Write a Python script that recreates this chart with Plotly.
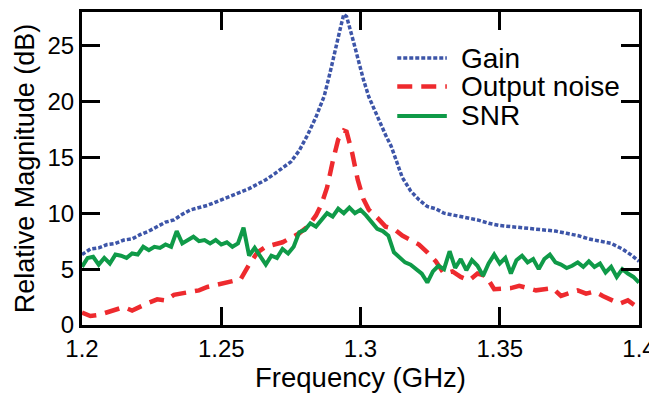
import plotly.graph_objects as go

# ---------------- data ----------------
gain_freq = [1.200, 1.203, 1.206, 1.209, 1.212, 1.215, 1.218, 1.221, 1.224, 1.227,
             1.230, 1.233, 1.236, 1.239, 1.242, 1.245, 1.248, 1.251, 1.254, 1.257,
             1.260, 1.263, 1.266, 1.269, 1.272, 1.275, 1.278, 1.281, 1.284, 1.287,
             1.289, 1.291, 1.293, 1.294, 1.295, 1.297, 1.299, 1.301, 1.303, 1.305,
             1.307, 1.309, 1.311, 1.313, 1.315, 1.318, 1.321, 1.324, 1.327, 1.330,
             1.334, 1.338, 1.342, 1.346, 1.350, 1.354, 1.358, 1.362, 1.366, 1.370,
             1.374, 1.378, 1.382, 1.386, 1.390, 1.394, 1.397, 1.400]
gain_db = [6.3, 6.8, 6.9, 7.2, 7.3, 7.6, 7.7, 8.1, 8.4, 8.8,
           9.2, 9.4, 9.9, 10.3, 10.5, 10.7, 11.0, 11.3, 11.6, 11.9,
           12.2, 12.6, 13.0, 13.5, 14.1, 14.6, 15.6, 17.0, 18.6, 20.5,
           22.5, 24.8, 26.8, 27.8, 27.6, 25.8, 23.8, 22.0, 20.4, 19.2,
           18.0, 17.0, 16.0, 14.6, 13.2, 12.0, 11.2, 10.6, 10.4, 10.0,
           9.8, 9.6, 9.4, 9.1, 8.9, 8.8, 8.7, 8.6, 8.5, 8.4,
           8.2, 8.0, 7.7, 7.5, 7.3, 6.8, 6.3, 5.7]

noise_freq = [1.200, 1.203, 1.206, 1.209, 1.212, 1.215, 1.218, 1.221, 1.224, 1.227,
              1.230, 1.233, 1.236, 1.239, 1.242, 1.245, 1.248, 1.251, 1.254, 1.257,
              1.260, 1.263, 1.266, 1.269, 1.272, 1.275, 1.278, 1.281, 1.284, 1.286,
              1.288, 1.290, 1.292, 1.294, 1.295, 1.297, 1.299, 1.301, 1.303, 1.306,
              1.309, 1.312, 1.315, 1.318, 1.321, 1.324, 1.327, 1.330, 1.333, 1.336,
              1.339, 1.342, 1.345, 1.348, 1.351, 1.354, 1.357, 1.360, 1.363, 1.366,
              1.369, 1.372, 1.375, 1.378, 1.381, 1.384, 1.387, 1.390, 1.393, 1.396,
              1.400]
noise_db = [1.1, 0.8, 0.9, 1.1, 1.4, 1.6, 1.3, 1.7, 2.0, 2.3,
            2.2, 2.7, 2.8, 2.9, 3.1, 3.4, 3.6, 3.8, 4.0, 4.1,
            5.4, 6.5, 7.0, 7.2, 7.4, 7.8, 8.2, 8.8, 9.8, 10.8,
            12.3, 14.6, 16.6, 17.4, 17.3, 15.4, 13.0, 11.3, 10.3, 9.6,
            8.8, 8.6, 8.0, 7.6, 7.2, 6.5, 5.7, 4.6, 4.8, 4.3,
            4.0, 4.6, 4.4, 3.2, 3.2, 3.3, 3.5, 3.3, 3.1, 3.2,
            3.3, 2.6, 2.9, 3.1, 2.8, 3.0, 2.6, 2.3, 1.9, 2.2,
            1.5]

snr_freq = [1.200, 1.202, 1.204, 1.206, 1.208, 1.210, 1.212, 1.214, 1.216, 1.218,
            1.220, 1.222, 1.224, 1.226, 1.228, 1.230, 1.232, 1.234, 1.236, 1.238,
            1.240, 1.242, 1.244, 1.246, 1.248, 1.250, 1.252, 1.254, 1.256, 1.258,
            1.260, 1.262, 1.264, 1.266, 1.268, 1.270, 1.272, 1.274, 1.276, 1.278,
            1.280, 1.282, 1.284, 1.286, 1.288, 1.290, 1.292, 1.294, 1.296, 1.298,
            1.300, 1.302, 1.304, 1.306, 1.308, 1.310, 1.312, 1.314, 1.316, 1.318,
            1.320, 1.322, 1.324, 1.326, 1.328, 1.330, 1.332, 1.334, 1.336, 1.338,
            1.340, 1.342, 1.344, 1.346, 1.348, 1.350, 1.352, 1.354, 1.356, 1.358,
            1.360, 1.362, 1.364, 1.366, 1.368, 1.370, 1.372, 1.374, 1.376, 1.378,
            1.380, 1.382, 1.384, 1.386, 1.388, 1.390, 1.392, 1.394, 1.396, 1.398,
            1.400]
snr_db = [5.2, 6.0, 6.1, 5.4, 6.0, 5.5, 6.3, 6.2, 6.0, 6.4,
          6.3, 7.0, 6.7, 7.0, 6.9, 7.2, 7.0, 8.4, 7.3, 7.6,
          7.9, 7.5, 7.6, 7.3, 7.6, 7.2, 7.4, 7.0, 7.3, 8.7,
          6.2, 6.9, 6.1, 5.4, 6.2, 6.0, 6.8, 6.4, 7.0, 8.3,
          8.5, 9.1, 8.8, 9.4, 10.0, 9.7, 10.4, 10.0, 10.5, 10.0,
          10.3, 9.8, 9.2, 8.6, 8.4, 8.0, 6.5, 6.0, 5.6, 5.4,
          5.0, 4.6, 3.8, 4.8, 5.3, 5.0, 6.6, 5.1, 5.9, 4.9,
          5.8, 5.3, 4.4, 5.5, 6.3, 5.5, 6.0, 4.6, 5.8, 6.2,
          5.6, 5.9, 5.0, 5.9, 6.3, 5.6, 5.4, 5.1, 5.3, 5.6,
          5.2, 5.7, 5.2, 5.5, 4.7, 5.2, 4.3, 5.0, 4.6, 4.3,
          3.8]

x_tickvals = [1.2, 1.25, 1.3, 1.35, 1.4]
x_ticktext = ["1.2", "1.25", "1.3", "1.35", "1.4"]
y_tickvals = [0, 5, 10, 15, 20, 25]

names = ["Gain", "Output noise", "SNR"]
colors = ["#3D55A8", "#EE2A2E", "#0F9A48"]
dashes = ["4px,2px", "15px,9px", "solid"]
widths = [3.5, 4.5, 4]

FONT = "Liberation Sans, Arial, Helvetica, sans-serif"

fig = go.Figure()
for fx, fy, nm, c, d, w in zip([gain_freq, noise_freq, snr_freq],
                               [gain_db, noise_db, snr_db],
                               names, colors, dashes, widths):
    fig.add_trace(go.Scatter(x=fx, y=fy, mode="lines", name=nm,
                             line=dict(color=c, dash=d, width=w),
                             showlegend=False))

# manual legend (longer line samples like the reference)
leg_y = [0.853, 0.762, 0.668]
for yy, nm, c, d, w in zip(leg_y, names, colors, dashes, widths):
    fig.add_shape(type="line", xref="paper", yref="paper",
                  x0=0.566, x1=0.655, y0=yy, y1=yy,
                  line=dict(color=c, dash=d, width=w))
    fig.add_annotation(xref="paper", yref="paper", x=0.676, y=yy,
                       text=nm, showarrow=False, xanchor="left", yanchor="middle",
                       font=dict(size=28, color="black", family=FONT))

axis_common = dict(showline=True, linewidth=3, linecolor="black", mirror="ticks",
                   ticks="inside", ticklen=18, tickwidth=3, tickcolor="black",
                   showgrid=False, zeroline=False,
                   tickfont=dict(size=24, color="black", family=FONT))

fig.update_xaxes(range=[1.2, 1.4], tickvals=x_tickvals, ticktext=x_ticktext,
                 title=dict(text="Frequency (GHz)", font=dict(size=27.5, color="black", family=FONT),
                            standoff=2),
                 **axis_common)
fig.update_yaxes(range=[0, 28], tickvals=y_tickvals,
                 title=dict(text="Relative Magnitude (dB)", font=dict(size=27, color="black", family=FONT),
                            standoff=6),
                 **axis_common)

# page body has an 8px margin, so the figure is drawn 8px right/down
fig.update_layout(width=649, height=388,
                  margin=dict(l=74, r=18, t=4, b=71, autoexpand=False),
                  paper_bgcolor="white", plot_bgcolor="white",
                  font=dict(family=FONT, color="black"))

fig.write_html("out.html")
